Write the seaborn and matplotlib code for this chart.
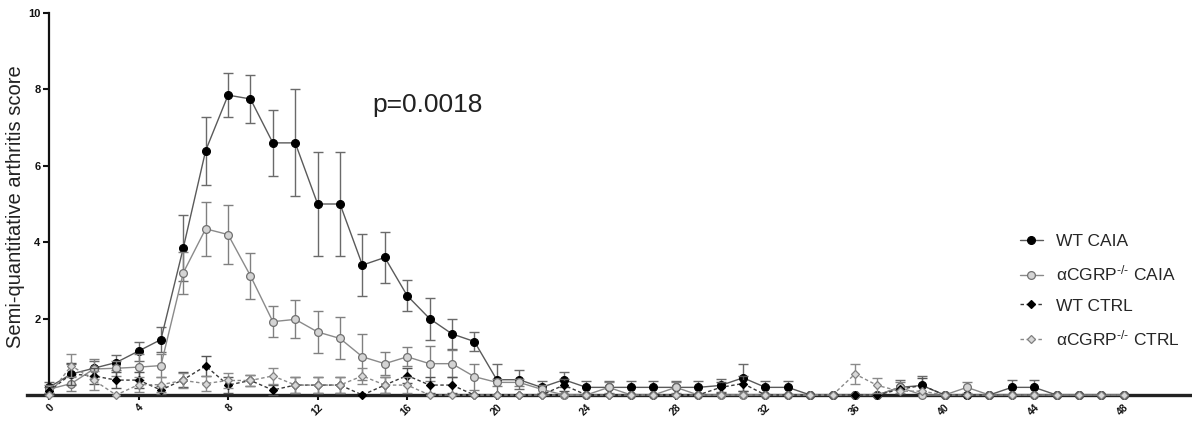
import numpy as np
import pandas as pd
import matplotlib
matplotlib.use("Agg")
import matplotlib.pyplot as plt
import seaborn as sns

# ---------------- data ----------------
days = list(range(0, 49))

wt_caia = [0.2, 0.55, 0.7, 0.85, 1.15, 1.45, 3.85, 6.4, 7.85, 7.75,
           6.6, 6.6, 5.0, 5.0, 3.4, 3.6, 2.6, 2.0, 1.6, 1.4,
           0.4, 0.4, 0.2, 0.4, 0.2, 0.2, 0.2, 0.2, 0.2, 0.2,
           0.25, 0.45, 0.2, 0.2, 0.0, 0.0, 0.0, 0.0, 0.2, 0.25,
           0.0, 0.0, 0.0, 0.2, 0.2, 0.0, 0.0, 0.0, 0.0]
wt_caia_sem = [0.15, 0.25, 0.2, 0.2, 0.25, 0.33, 0.87, 0.89, 0.58, 0.63,
               0.86, 1.4, 1.37, 1.36, 0.82, 0.67, 0.4, 0.55, 0.4, 0.24,
               0.4, 0.25, 0.17, 0.2, 0.17, 0.17, 0.17, 0.17, 0.17, 0.17,
               0.17, 0.35, 0.17, 0.17, 0.0, 0.0, 0.0, 0.0, 0.2, 0.25,
               0.0, 0.0, 0.0, 0.2, 0.2, 0.0, 0.0, 0.0, 0.0]

ko_caia = [0.15, 0.3, 0.68, 0.7, 0.73, 0.77, 3.2, 4.35, 4.2, 3.12,
           1.92, 1.98, 1.65, 1.48, 1.0, 0.82, 1.0, 0.82, 0.82, 0.48,
           0.33, 0.33, 0.15, 0.0, 0.0, 0.2, 0.0, 0.0, 0.2, 0.0,
           0.0, 0.0, 0.0, 0.0, 0.0, 0.0, 0.0, 0.0, 0.2, 0.0,
           0.0, 0.2, 0.0, 0.0, 0.0, 0.0, 0.0, 0.0, 0.0]
ko_caia_sem = [0.1, 0.2, 0.25, 0.2, 0.35, 0.3, 0.55, 0.7, 0.78, 0.6,
               0.4, 0.5, 0.55, 0.55, 0.6, 0.3, 0.25, 0.45, 0.35, 0.34,
               0.1, 0.1, 0.1, 0.0, 0.0, 0.15, 0.0, 0.0, 0.15, 0.0,
               0.0, 0.0, 0.0, 0.0, 0.0, 0.0, 0.0, 0.0, 0.15, 0.0,
               0.0, 0.15, 0.0, 0.0, 0.0, 0.0, 0.0, 0.0, 0.0]

wt_ctrl = [0.1, 0.55, 0.5, 0.39, 0.39, 0.13, 0.4, 0.76, 0.26, 0.38,
           0.13, 0.26, 0.26, 0.26, 0.0, 0.26, 0.51, 0.26, 0.26, 0.0,
           0.0, 0.0, 0.0, 0.26, 0.0, 0.0, 0.0, 0.0, 0.0, 0.0,
           0.2, 0.3, 0.0, 0.0, 0.0, 0.0, 0.0, 0.0, 0.15, 0.25,
           0.0, 0.0, 0.0, 0.0, 0.0, 0.0, 0.0, 0.0, 0.0]
wt_ctrl_sem = [0.1, 0.3, 0.2, 0.2, 0.2, 0.1, 0.2, 0.25, 0.2, 0.15,
               0.13, 0.2, 0.2, 0.2, 0.0, 0.2, 0.2, 0.2, 0.2, 0.0,
               0.0, 0.0, 0.0, 0.15, 0.0, 0.0, 0.0, 0.0, 0.0, 0.0,
               0.15, 0.2, 0.0, 0.0, 0.0, 0.0, 0.0, 0.0, 0.0, 0.2,
               0.0, 0.0, 0.0, 0.0, 0.0, 0.0, 0.0, 0.0, 0.0]

ko_ctrl = [0.0, 0.77, 0.39, 0.0, 0.27, 0.27, 0.38, 0.3, 0.38, 0.38,
           0.5, 0.26, 0.26, 0.26, 0.5, 0.26, 0.26, 0.0, 0.0, 0.0,
           0.0, 0.0, 0.0, 0.0, 0.0, 0.0, 0.0, 0.0, 0.0, 0.0,
           0.0, 0.0, 0.0, 0.0, 0.0, 0.0, 0.55, 0.25, 0.1, 0.1,
           0.0, 0.0, 0.0, 0.0, 0.0, 0.0, 0.0, 0.0, 0.0]
ko_ctrl_sem = [0.0, 0.3, 0.25, 0.0, 0.2, 0.2, 0.2, 0.2, 0.2, 0.15,
               0.2, 0.2, 0.2, 0.2, 0.2, 0.2, 0.2, 0.0, 0.0, 0.0,
               0.0, 0.0, 0.0, 0.0, 0.0, 0.0, 0.0, 0.0, 0.0, 0.0,
               0.0, 0.0, 0.0, 0.0, 0.0, 0.0, 0.25, 0.2, 0.0, 0.0,
               0.0, 0.0, 0.0, 0.0, 0.0, 0.0, 0.0, 0.0, 0.0]

labels = ["WT CAIA", "αCGRP$^{\u2010/\u2010}$ CAIA", "WT CTRL", "αCGRP$^{\u2010/\u2010}$ CTRL"]
x_ticks = list(range(0, 49, 4))
y_ticks = [2, 4, 6, 8, 10]
p_text = "p=0.0018"
y_label = "Semi-quantitative arthritis score"

# ---------------- style ----------------
sns.set_style("ticks")
plt.rcParams["font.family"] = ["Liberation Sans", "DejaVu Sans"]
plt.rcParams["mathtext.fontset"] = "custom"
plt.rcParams["mathtext.rm"] = "Liberation Sans"
plt.rcParams["mathtext.it"] = "Liberation Sans"
plt.rcParams["mathtext.bf"] = "Liberation Sans:bold"
plt.rcParams["mathtext.default"] = "regular"

fig = plt.figure(figsize=(11.92, 4.21), dpi=100)
ax = fig.add_axes([27 / 1192, 26 / 421, (1192 - 27) / 1192, 382 / 421])

series = [
    (wt_caia, wt_caia_sem, dict(marker="o", ms=5.6, mfc="black", mec="black",
                                 color="#5a5a5a", ls="-", lw=1.0), "#6a6a6a"),
    (ko_caia, ko_caia_sem, dict(marker="o", ms=5.6, mfc="#d4d4d4", mec="#707070",
                                 color="#8a8a8a", ls="-", lw=1.0), "#808080"),
    (wt_ctrl, wt_ctrl_sem, dict(marker="D", ms=3.6, mfc="black", mec="black",
                                 color="#3a3a3a", ls=(0, (2.5, 1.8)), lw=1.0), "#555555"),
    (ko_ctrl, ko_ctrl_sem, dict(marker="D", ms=3.6, mfc="#d8d8d8", mec="#808080",
                                 color="#8a8a8a", ls=(0, (2.5, 1.8)), lw=1.0), "#8a8a8a"),
]

handles = []
for i, (vals, sem, kw, ecol) in enumerate(series):
    d = np.array(days)
    v = np.array(vals)
    s = np.array(sem)
    m = s > 0
    ax.errorbar(d[m], v[m], yerr=s[m], fmt="none", ecolor=ecol, elinewidth=1.0,
                capsize=3.5, capthick=1.0, zorder=2 + i, clip_on=False)
    df = pd.DataFrame({"day": days, "score": vals})
    sns.lineplot(data=df, x="day", y="score", ax=ax, errorbar=None,
                 color=kw["color"], linestyle=kw["ls"], linewidth=kw["lw"],
                 marker=kw["marker"], markersize=kw["ms"],
                 markerfacecolor=kw["mfc"], markeredgecolor=kw["mec"],
                 markeredgewidth=0.9, zorder=3 + i, clip_on=False)
    handles.append(ax.lines[-1])

ax.set_xlim(-0.98, 51.05)
ax.set_ylim(0, 10)
ax.spines["top"].set_visible(False)
ax.spines["right"].set_visible(False)
ax.spines["left"].set_position(("data", 0))
ax.spines["left"].set_linewidth(1.6)
ax.spines["left"].set_color("#111111")
ax.spines["bottom"].set_linewidth(2.4)
ax.spines["bottom"].set_color("#222222")

ax.set_xticks(x_ticks)
ax.set_xticklabels([str(t) for t in x_ticks], rotation=45, ha="right",
                   rotation_mode="anchor", fontsize=7.5, fontweight="bold")
ax.set_yticks(y_ticks)
ax.set_yticklabels([str(t) for t in y_ticks], fontsize=8, fontweight="bold")
ax.tick_params(axis="x", direction="out", length=3.5, width=1.5, pad=1.5, colors="#111111")
ax.tick_params(axis="y", direction="out", length=4, width=1.5, pad=2, colors="#111111")
ax.set_xlabel("")
ax.set_ylabel("")
fig.text(16 / 1192, 1 - 207 / 421, y_label, rotation=90, ha="center", va="center",
         fontsize=14.5, color="#222222")

ax.text(16.9, 7.6, p_text, fontsize=19, ha="center", va="center", color="#222222")

fig.legend(handles, labels, loc="center left",
           bbox_to_anchor=(1020 / 1192, 1 - 291 / 421), frameon=False,
           fontsize=12.5, handlelength=1.3, handletextpad=0.8, labelspacing=0.85,
           borderaxespad=0, borderpad=0)

fig.savefig("out.png", dpi=100)
